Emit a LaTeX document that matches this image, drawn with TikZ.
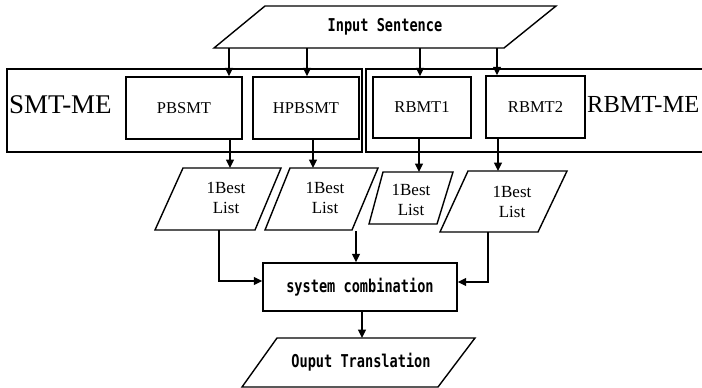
\documentclass[tikz,border=0pt]{standalone}
\usepackage{fontspec}
\setmainfont{Liberation Serif}
\newfontfamily\monofont{DejaVu Sans Mono}
\usetikzlibrary{arrows.meta}

% tall narrow monospaced lettering
\newcommand{\tallmono}[1]{\scalebox{1}[1.3]{#1}}

\tikzset{
  line/.style={line width=1.4pt},
  arr/.style={line, -{Triangle[length=8.5pt,width=8pt]}},
  engine/.style={draw, line width=1.4pt, inner sep=0pt,
    font=\fontsize{16.5}{18}\selectfont},
  group/.style={draw, line width=1.4pt, inner sep=0pt},
  grouplabel/.style={anchor=west, inner sep=0pt,
    font=\fontsize{27}{30}\selectfont},
  monolabel/.style={inner sep=0pt,
    font=\monofont\bfseries\fontsize{13.6}{16}\selectfont},
  listlabel/.style={align=center, inner sep=0pt,
    font=\fontsize{17}{20}\selectfont},
}

\begin{document}
\begin{tikzpicture}[x=1pt, y=-1pt]
  \useasboundingbox (0,0) rectangle (702,388);

  % input parallelogram
  \draw[line] (265,6) -- (556,6) -- (504,48) -- (214,48) -- cycle;
  \node[monolabel] (input) at (385,27) {\tallmono{Input Sentence}};
  \coordinate (i1) at (229,48);
  \coordinate (i2) at (307,48);
  \coordinate (i3) at (420,48);
  \coordinate (i4) at (497,48);

  % the two engine groups (right one runs past the edge)
  \node[group, minimum width=355pt, minimum height=83pt] (smt) at (184.5,110.5) {};
  \node[group, minimum width=344pt, minimum height=83pt] (rbmt) at (538,110.5) {};
  \node[grouplabel] (smtlabel) at (9,105) {SMT-ME};
  \node[grouplabel, font=\fontsize{24.5}{28}\selectfont] (rbmtlabel) at (587,105) {RBMT-ME};

  % engines
  \node[engine, minimum width=116pt, minimum height=62pt] (pb) at (184,108) {PBSMT};
  \node[engine, minimum width=106pt, minimum height=62pt] (hpb) at (306,108) {HPBSMT};
  \node[engine, minimum width=98pt, minimum height=61pt] (rb1) at (422,107.5) {RBMT1};
  \node[engine, minimum width=99pt, minimum height=62pt] (rb2) at (535.5,107) {RBMT2};

  \draw[arr] (i1) -- (i1 |- pb.north);
  \draw[arr] (i2) -- (i2 |- hpb.north);
  \draw[arr] (i3) -- (i3 |- rb1.north);
  \draw[arr] (i4) -- (i4 |- rb2.north);

  % 1-best lists
  \draw[line] (183,168) -- (281,168) -- (255,230) -- (155,230) -- cycle;
  \draw[line] (290,168) -- (378,168) -- (352,230) -- (265,230) -- cycle;
  \draw[line] (383,172) -- (453,172) -- (437,224) -- (369,224) -- cycle;
  \draw[line] (468,171) -- (567,171) -- (538,232) -- (440,232) -- cycle;
  \node[listlabel] (l1) at (226,198) {1Best\\List};
  \node[listlabel] (l2) at (325,198) {1Best\\List};
  \node[listlabel] (l3) at (411,200) {1Best\\List};
  \node[listlabel] (l4) at (512,202) {1Best\\List};

  \coordinate (t1) at (230,168);
  \coordinate (t2) at (313,168);
  \coordinate (t3) at (419,172);
  \coordinate (t4) at (498,171);
  \draw[arr] (t1 |- pb.south) -- (t1);
  \draw[arr] (t2 |- hpb.south) -- (t2);
  \draw[arr] (t3 |- rb1.south) -- (t3);
  \draw[arr] (t4 |- rb2.south) -- (t4);

  % combination
  \node[draw, line width=1.4pt, minimum width=194pt, minimum height=48pt,
        monolabel] (sc) at (360,287) {\tallmono{system combination}};

  \coordinate (b1) at (219,230);
  \coordinate (b2) at (356,231);
  \coordinate (b4) at (488,232);
  \draw[arr] (b1) |- ([yshift=6pt]sc.west);
  \draw[arr] (b2) -- (b2 |- sc.north);
  \draw[arr] (b4) |- ([yshift=5pt]sc.east);

  % output parallelogram
  \draw[line] (277,338) -- (475,338) -- (438,387) -- (242,387) -- cycle;
  \node[monolabel] (output) at (361,362) {\tallmono{Ouput Translation}};
  \coordinate (o1) at (362,338);
  \draw[arr] (o1 |- sc.south) -- (o1);
\end{tikzpicture}
\end{document}
